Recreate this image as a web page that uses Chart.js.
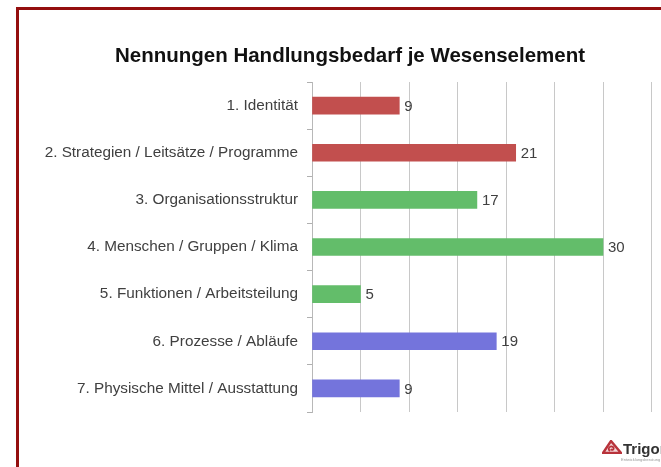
<!DOCTYPE html>
<html>
<head>
<meta charset="utf-8">
<script src="https://cdn.jsdelivr.net/npm/chart.js@4/dist/chart.umd.min.js"></script>
<style>
  html, body { margin: 0; padding: 0; overflow: hidden; background: #fff; width: 661px; height: 467px; }
  #frame { position: absolute; left: 16px; top: 7px; width: 700px; height: 520px; border: 3px solid #940f0f; box-sizing: border-box; }
  #chart4 { position: absolute; left: 0; top: 0; }
  #logo { position: absolute; left: 602px; top: 440px; font-family: "Liberation Sans", Arial, sans-serif; white-space: nowrap; }
  #logo b { position: absolute; left: 21px; top: 0px; font-size: 15px; color: #333; }
  #logo i { position: absolute; left: 19px; top: 17px; font-size: 4px; color: #999; font-style: normal; }
</style>
</head>
<body>
<div id="frame"></div>
<canvas id="chart4" width="700" height="467"></canvas>
<div id="logo">
  <svg width="20" height="14" viewBox="0 0 20 14">
    <path d="M1 13 L9 1 L19 13 Z" fill="#f3d6d8" stroke="#b8333b" stroke-width="2.4"/>
    <path d="M8 11 C5 9 8 5 11 7 C13 9 10 11 9 9" fill="none" stroke="#b8333b" stroke-width="1.8"/>
  </svg>
  <b>Trigon</b>
  <i>Entwicklungsberatung</i>
</div>
<script>
var categories = [
    '1. Identität',
    '2. Strategien / Leitsätze / Programme',
    '3. Organisationsstruktur',
    '4. Menschen / Gruppen / Klima',
    '5. Funktionen / Arbeitsteilung',
    '6. Prozesse / Abläufe',
    '7. Physische Mittel / Ausstattung'
];
var nennungen = [9, 21, 17, 30, 5, 19, 9];
var barColors = ['#c24f4e', '#c24f4e', '#63bd6a', '#63bd6a', '#63bd6a', '#7474dc', '#7474dc'];
var xTicks = [0, 5, 10, 15, 20, 25, 30, 35, 40];

// writes the number next to each bar
var valueLabels = {
    id: 'valueLabels',
    afterDatasetsDraw(chart) {
        var ctx = chart.ctx;
        var meta = chart.getDatasetMeta(0);
        ctx.save();
        ctx.font = '15px "Liberation Sans", Arial, sans-serif';
        ctx.fillStyle = '#404040';
        ctx.textBaseline = 'middle';
        meta.data.forEach((bar, i) => {
            ctx.fillText(String(nennungen[i]), bar.x + 5, bar.y + 1);
        });
        ctx.restore();
    }
};

const ctx = document.getElementById('chart4');
var chart = new Chart(ctx, {
    type: 'bar',
    data: {
        labels: categories,
        datasets: [
            {
                label: 'Nennungen',
                backgroundColor: barColors,
                data: nennungen,
                barThickness: 17
            }
        ]
    },
    options: {
        responsive: false,
        animation: false,
        indexAxis: 'y',
        layout: { padding: { left: 0, right: 0, top: 0, bottom: 55 } },
        plugins: {
            legend: { display: false },
            tooltip: { enabled: false },
            title: {
                display: true,
                text: 'Nennungen Handlungsbedarf je Wesenselement',
                color: '#111',
                font: { family: '"Liberation Sans", Arial, sans-serif', size: 20.5, weight: 'bold' },
                padding: { top: 44.5, bottom: 12.9 }
            }
        },
        scales: {
            x: {
                min: xTicks[0],
                max: xTicks[xTicks.length - 1],
                afterBuildTicks: (scale) => { scale.ticks = xTicks.map(v => ({ value: v })); },
                ticks: { display: false },
                grid: { color: '#c8c8c8', lineWidth: 1, drawTicks: false },
                border: { display: false }
            },
            y: {
                afterFit: (scale) => { scale.width = 312; },
                ticks: {
                    color: '#404040',
                    padding: 9,
                    font: { family: '"Liberation Sans", Arial, sans-serif', size: 15.3 }
                },
                grid: { drawOnChartArea: false, tickLength: 5, color: '#b0b0b0' },
                border: { color: '#b8b8b8' }
            }
        }
    },
    plugins: [valueLabels]
});
</script>
</body>
</html>
